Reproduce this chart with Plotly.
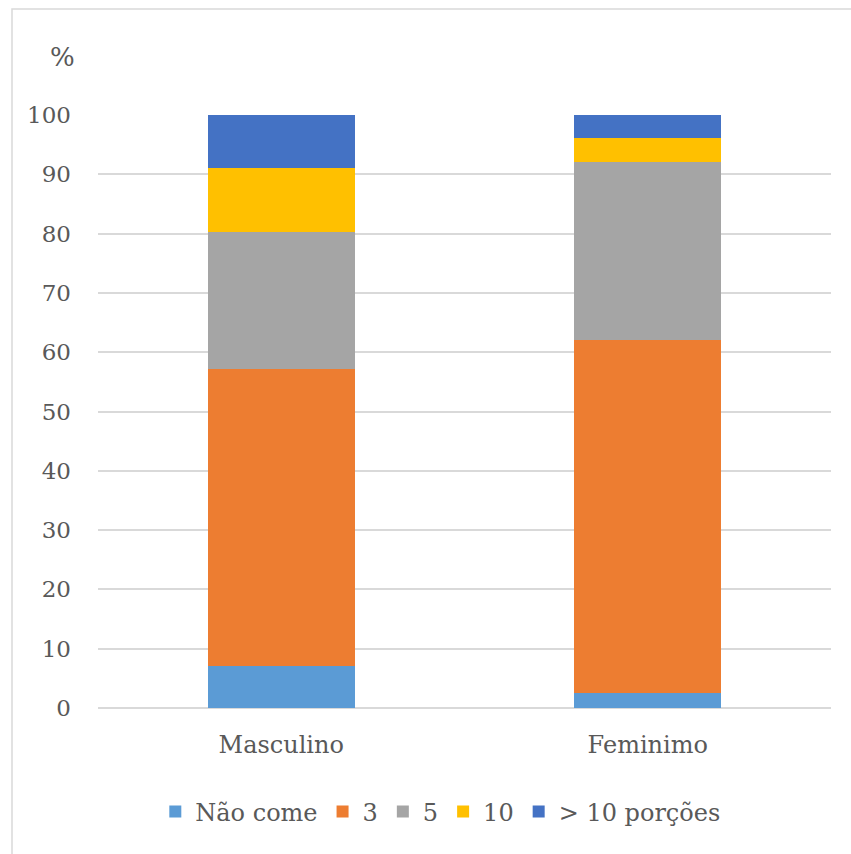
import plotly.graph_objects as go

categories = ["Masculino", "Feminimo"]
series_names = ["Não come", "3", "5", "10", "> 10 porções"]
nao_come = [7.0, 2.6]
s3 = [50.2, 59.5]
s5 = [23.1, 29.9]
s10 = [10.8, 4.1]
s_gt10 = [8.9, 3.9]
colors = ["#5B9BD5", "#ED7D31", "#A5A5A5", "#FFC000", "#4472C4"]
y_ticks = list(range(0, 101, 10))

values = [nao_come, s3, s5, s10, s_gt10]

fig = go.Figure()
for name, vals, col in zip(series_names, values, colors):
    fig.add_trace(go.Bar(
        x=categories, y=vals, name=name,
        marker=dict(color=col, line=dict(width=0)),
        width=0.4,
    ))

font_family = "DejaVu Serif"
txt_col = "#595959"

fig.update_layout(
    barmode="stack",
    width=851, height=854,
    margin=dict(l=98, r=20, t=115, b=146),
    paper_bgcolor="white", plot_bgcolor="white",
    font=dict(family=font_family, size=24, color=txt_col),
    showlegend=True,
    legend=dict(orientation="h", x=0.467, xanchor="center", y=-0.175, yanchor="middle",
                font=dict(family=font_family, size=24, color=txt_col),
                traceorder="normal", itemwidth=30, itemsizing="constant"),
    bargap=0.6,
)
fig.update_yaxes(range=[0, 100], tickvals=y_ticks, showgrid=True, gridcolor="#d9d9d9",
                 gridwidth=1.5, zeroline=True, zerolinecolor="#d9d9d9", zerolinewidth=1.5,
                 showline=False, ticks="", ticklabelstandoff=26,
                 tickfont=dict(family=font_family, size=23, color=txt_col))
fig.update_xaxes(showgrid=False, showline=False, ticks="", ticklabelstandoff=20,
                 tickfont=dict(family=font_family, size=24, color=txt_col))

fig.add_annotation(text="%", xref="paper", yref="paper", x=(62 - 98) / 733, y=(708.5 - 57) / 593.5,
                   showarrow=False, xanchor="center", yanchor="middle",
                   font=dict(family=font_family, size=26, color=txt_col))

fig.add_shape(type="rect", xref="paper", yref="paper",
              x0=(12 - 98) / 733, x1=(870 - 98) / 733,
              y0=(708.5 - 880) / 593.5, y1=(708.5 - 9) / 593.5,
              line=dict(color="#d9d9d9", width=1.5), fillcolor="rgba(0,0,0,0)", layer="below")

fig.write_html("out.html")
